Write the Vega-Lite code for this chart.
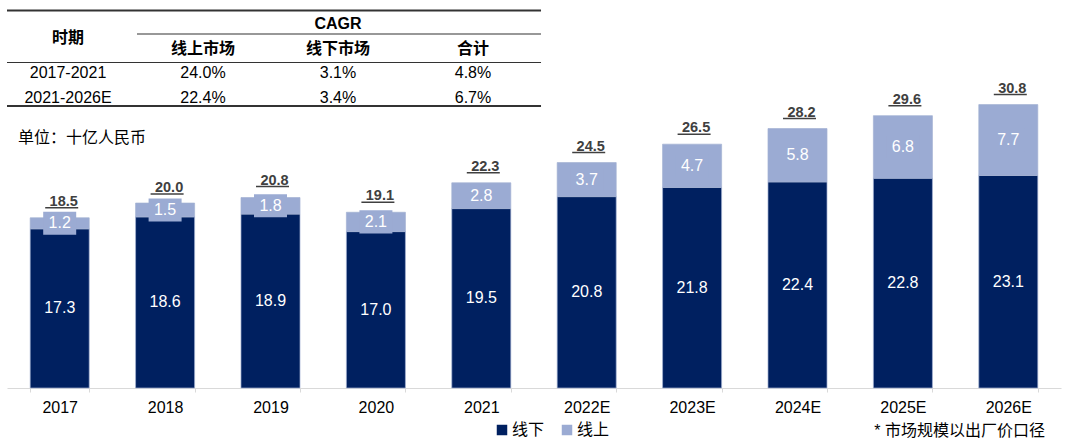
{
  "$schema": "https://vega.github.io/schema/vega-lite/v6.json",
  "width": 1054,
  "height": 380,
  "autosize": {"type": "none"},
  "padding": {"left": 7, "top": 8, "right": 9, "bottom": 54},
  "config": {
    "view": {"stroke": null},
    "font": "Liberation Sans, Noto Sans CJK SC",
    "text": {"font": "Liberation Sans, Noto Sans CJK SC"}
  },
  "title": {
    "text": "* 市场规模以出厂价口径",
    "orient": "bottom",
    "anchor": "end",
    "dx": -16,
    "dy": -7,
    "offset": -8,
    "fontSize": 16,
    "fontWeight": "normal",
    "color": "#000000",
    "font": "Liberation Sans, Noto Sans CJK SC"
  },
  "datasets": {
    "market": [
      {"year": "2017", "type": "线下", "value": 17.3},
      {"year": "2017", "type": "线上", "value": 1.2},
      {"year": "2018", "type": "线下", "value": 18.6},
      {"year": "2018", "type": "线上", "value": 1.5},
      {"year": "2019", "type": "线下", "value": 18.9},
      {"year": "2019", "type": "线上", "value": 1.8},
      {"year": "2020", "type": "线下", "value": 17.0},
      {"year": "2020", "type": "线上", "value": 2.1},
      {"year": "2021", "type": "线下", "value": 19.5},
      {"year": "2021", "type": "线上", "value": 2.8},
      {"year": "2022E", "type": "线下", "value": 20.8},
      {"year": "2022E", "type": "线上", "value": 3.7},
      {"year": "2023E", "type": "线下", "value": 21.8},
      {"year": "2023E", "type": "线上", "value": 4.7},
      {"year": "2024E", "type": "线下", "value": 22.4},
      {"year": "2024E", "type": "线上", "value": 5.8},
      {"year": "2025E", "type": "线下", "value": 22.8},
      {"year": "2025E", "type": "线上", "value": 6.8},
      {"year": "2026E", "type": "线下", "value": 23.1},
      {"year": "2026E", "type": "线上", "value": 7.7}
    ],
    "totals": [
      {"year": "2017", "total": 18.5},
      {"year": "2018", "total": 20.0},
      {"year": "2019", "total": 20.8},
      {"year": "2020", "total": 19.1},
      {"year": "2021", "total": 22.3},
      {"year": "2022E", "total": 24.5},
      {"year": "2023E", "total": 26.5},
      {"year": "2024E", "total": 28.2},
      {"year": "2025E", "total": 29.6},
      {"year": "2026E", "total": 30.8}
    ],
    "tableHeader": [
      {"c": 0, "r": 0.55, "t": "时期"},
      {"c": 2, "r": 0, "t": "CAGR"},
      {"c": 1, "r": 1, "t": "线上市场"},
      {"c": 2, "r": 1, "t": "线下市场"},
      {"c": 3, "r": 1, "t": "合计"}
    ],
    "tableBody": [
      {"c": 0, "r": 2, "t": "2017-2021"},
      {"c": 1, "r": 2, "t": "24.0%"},
      {"c": 2, "r": 2, "t": "3.1%"},
      {"c": 3, "r": 2, "t": "4.8%"},
      {"c": 0, "r": 3, "t": "2021-2026E"},
      {"c": 1, "r": 3, "t": "22.4%"},
      {"c": 2, "r": 3, "t": "3.4%"},
      {"c": 3, "r": 3, "t": "6.7%"}
    ],
    "ruleThick": [
      {"c1": -0.452, "c2": 3.504, "r": -0.57},
      {"c1": -0.452, "c2": 3.504, "r": 3.335}
    ],
    "ruleThin": [
      {"c1": 0.511, "c2": 3.504, "r": 0.39},
      {"c1": -0.452, "c2": 3.504, "r": 1.556}
    ],
    "notes": [
      {"c": -0.371, "r": 4.644, "t": "单位：十亿人民币"}
    ]
  },
  "layer": [
    {
      "encoding": {
        "x": {
          "field": "year",
          "type": "nominal",
          "sort": null,
          "scale": {
            "domain": ["2017", "2018", "2019", "2020", "2021", "2022E", "2023E", "2024E", "2025E", "2026E"],
            "paddingInner": 0.44,
            "paddingOuter": 0.22
          },
          "axis": {
            "title": null,
            "labelAngle": 0,
            "labelFontSize": 16,
            "labelColor": "#000000",
            "labelFont": "Liberation Sans",
            "domainColor": "#D9D9D9",
            "tickColor": "#D9D9D9",
            "tickBand": "extent",
            "tickSize": 4,
            "labelPadding": 7,
            "grid": false
          }
        }
      },
      "layer": [
        {
          "data": {"name": "market"},
          "layer": [
            {
              "mark": {"type": "bar", "stroke": "#A3B1D2", "strokeWidth": 0.7},
              "encoding": {
                "y": {
                  "field": "value",
                  "type": "quantitative",
                  "stack": "zero",
                  "scale": {"domain": [0, 41.3], "nice": false},
                  "axis": null
                },
                "color": {
                  "field": "type",
                  "type": "nominal",
                  "scale": {"domain": ["线下", "线上"], "range": ["#002060", "#9BABD3"]},
                  "legend": {
                    "orient": "none",
                    "legendX": 487,
                    "legendY": 414,
                    "direction": "horizontal",
                    "title": null,
                    "symbolType": "square",
                    "symbolSize": 110,
                    "symbolStrokeWidth": 0,
                    "labelFontSize": 16,
                    "labelColor": "#000000",
                    "labelFont": "Liberation Sans, Noto Sans CJK SC",
                    "columnPadding": 14,
                    "labelOffset": 2
                  }
                },
                "order": {"field": "type", "sort": "descending"}
              }
            },
            {
              "mark": {
                "type": "point",
                "shape": "M-1,-0.7L1,-0.7L1,0.7L-1,0.7Z",
                "filled": true,
                "size": 1089,
                "color": "#9BABD3",
                "strokeWidth": 0
              },
              "encoding": {
                "y": {"field": "value", "type": "quantitative", "stack": "zero", "bandPosition": 0.5},
                "detail": {"field": "type"},
                "order": {"field": "type", "sort": "descending"},
                "opacity": {"condition": {"test": "datum.type === '线上'", "value": 1}, "value": 0}
              }
            },
            {
              "mark": {"type": "text", "color": "#ffffff", "fontSize": 16, "baseline": "middle", "font": "Liberation Sans"},
              "encoding": {
                "y": {"field": "value", "type": "quantitative", "stack": "zero", "bandPosition": 0.5},
                "detail": {"field": "type"},
                "order": {"field": "type", "sort": "descending"},
                "text": {"field": "value", "type": "quantitative", "format": ".1f"}
              }
            }
          ]
        },
        {
          "data": {"name": "totals"},
          "encoding": {
            "y": {"field": "total", "type": "quantitative", "scale": {"domain": [0, 41.3], "nice": false}}
          },
          "layer": [
            {
              "mark": {"type": "tick", "orient": "horizontal", "size": 33, "thickness": 1.5, "color": "#404040", "yOffset": -10, "xOffset": 2, "opacity": 1}
            },
            {
              "mark": {"type": "text", "fontSize": 14.5, "fontWeight": "bold", "color": "#404040", "dy": -16, "dx": 4, "baseline": "middle", "font": "Liberation Sans"},
              "encoding": {"text": {"field": "total", "type": "quantitative", "format": ".1f"}}
            }
          ]
        }
      ]
    },
    {
      "layer": [
        {
          "data": {"name": "ruleThick"},
          "mark": {"type": "rule", "color": "#333333", "strokeWidth": 2},
          "encoding": {
            "x": {"field": "c1", "type": "quantitative", "scale": {"domain": [-0.452, 7.356], "nice": false, "zero": false}, "axis": null},
            "x2": {"field": "c2"},
            "y": {"field": "r", "type": "quantitative", "scale": {"domain": [-0.673, 14.869], "nice": false, "zero": false, "reverse": true}, "axis": null}
          }
        },
        {
          "data": {"name": "ruleThin"},
          "mark": {"type": "rule", "color": "#333333", "strokeWidth": 1.2},
          "encoding": {
            "x": {"field": "c1", "type": "quantitative", "axis": null},
            "x2": {"field": "c2"},
            "y": {"field": "r", "type": "quantitative", "axis": null}
          }
        },
        {
          "data": {"name": "tableHeader"},
          "mark": {"type": "text", "fontSize": 16, "fontWeight": "bold", "color": "#000000", "baseline": "middle", "align": "center"},
          "encoding": {
            "x": {"field": "c", "type": "quantitative", "axis": null},
            "y": {"field": "r", "type": "quantitative", "axis": null},
            "text": {"field": "t"}
          }
        },
        {
          "data": {"name": "tableBody"},
          "mark": {"type": "text", "fontSize": 16, "color": "#000000", "baseline": "middle", "align": "center"},
          "encoding": {
            "x": {"field": "c", "type": "quantitative", "axis": null},
            "y": {"field": "r", "type": "quantitative", "axis": null},
            "text": {"field": "t"}
          }
        },
        {
          "data": {"name": "notes"},
          "mark": {"type": "text", "fontSize": 16, "color": "#000000", "baseline": "middle", "align": "left"},
          "encoding": {
            "x": {"field": "c", "type": "quantitative", "axis": null},
            "y": {"field": "r", "type": "quantitative", "axis": null},
            "text": {"field": "t"}
          }
        }
      ]
    }
  ],
  "resolve": {"scale": {"x": "independent", "y": "independent"}}
}
